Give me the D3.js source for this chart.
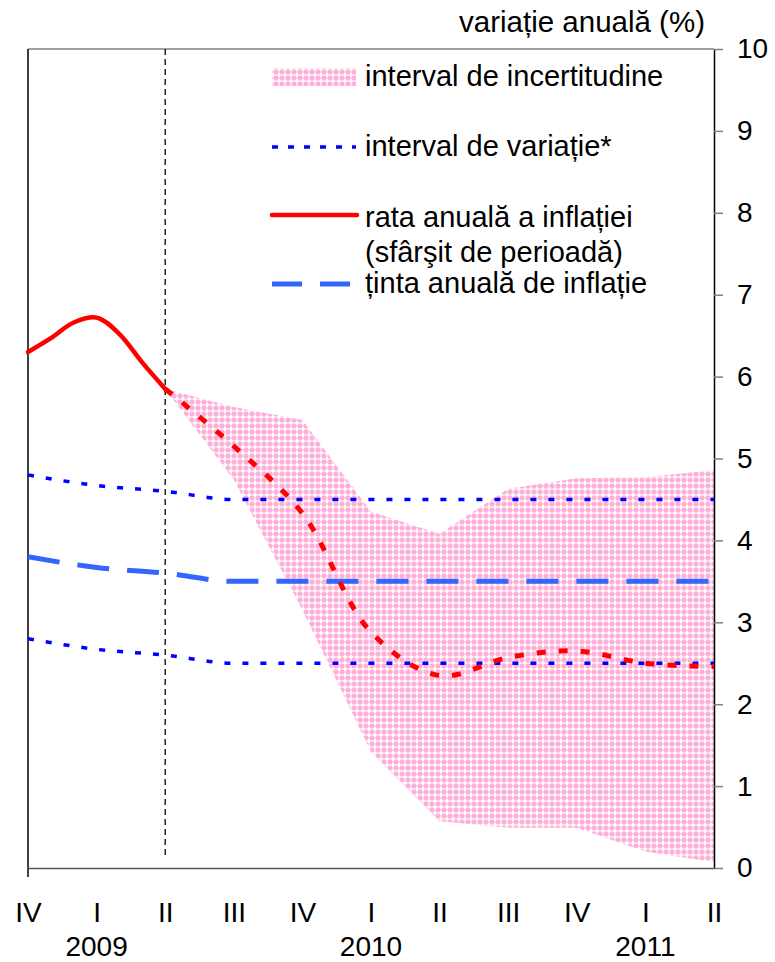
<!DOCTYPE html>
<html>
<head>
<meta charset="utf-8">
<script src="https://cdn.jsdelivr.net/npm/d3@7"></script>
<style>
  body { margin: 0; background: #fff; }
  text { font-family: "Liberation Sans", Arial, sans-serif; fill: #000; }
</style>
</head>
<body>
<div id="chart"></div>
<script>
// quarters on the x axis (index 0 = IV 2008 ... 10 = II 2011)
var quarterLabels = ["IV", "I", "II", "III", "IV", "I", "II", "III", "IV", "I", "II"];
var yearLabels = [{q: 1, year: "2009"}, {q: 5, year: "2010"}, {q: 9, year: "2011"}];

// realised annual inflation, monthly, Dec 2008 - Jun 2009
var histMonths = [0, 1/3, 2/3, 1, 4/3, 5/3, 2];
var histValues = [6.30, 6.47, 6.66, 6.72, 6.52, 6.17, 5.85];

// forecast, quarterly from II 2009
var fcQuarters = [2, 3, 4, 5, 6, 7, 8, 9, 10];
var fcValues   = [5.85, 5.15, 4.33, 2.88, 2.35, 2.57, 2.65, 2.50, 2.46];

// uncertainty band
var bandUpper = [5.85, 5.63, 5.47, 4.35, 4.08, 4.63, 4.76, 4.77, 4.86];
var bandLower = [5.85, 4.74, 3.15, 1.42, 0.57, 0.49, 0.49, 0.20, 0.07];

// inflation target and variation interval (target +/- 1 pp)
var allQuarters = [0, 1, 2, 3, 4, 5, 6, 7, 8, 9, 10];
var target = [3.8, 3.67, 3.6, 3.5, 3.5, 3.5, 3.5, 3.5, 3.5, 3.5, 3.5];
var intervalUp = [4.8, 4.67, 4.6, 4.5, 4.5, 4.5, 4.5, 4.5, 4.5, 4.5, 4.5];
var intervalLow = [2.8, 2.67, 2.6, 2.5, 2.5, 2.5, 2.5, 2.5, 2.5, 2.5, 2.5];

var yTicks = [0, 1, 2, 3, 4, 5, 6, 7, 8, 9, 10];

var W = 775, H = 962;
var svg = d3.select("#chart").append("svg").attr("width", W).attr("height", H);

var x = d3.scaleLinear().domain([0, 10]).range([28, 714]);
var y = d3.scaleLinear().domain([0, 10]).range([868, 49]);

// crosshatch pattern for the band
var defs = svg.append("defs");
var pat = defs.append("pattern").attr("id", "hatch")
  .attr("patternUnits", "userSpaceOnUse").attr("width", 6).attr("height", 6);
pat.append("rect").attr("width", 6).attr("height", 6).attr("fill", "#ffb0d8");
pat.append("rect").attr("x", 2).attr("y", 0.5).attr("width", 2).attr("height", 5).attr("fill", "#fff").attr("opacity", 0.8);
pat.append("rect").attr("x", 0.5).attr("y", 2).attr("width", 5).attr("height", 2).attr("fill", "#fff").attr("opacity", 0.8);

// band
var band = fcQuarters.map(function(q, i) { return {q: q, lo: bandLower[i], hi: bandUpper[i]}; });
svg.append("path")
  .datum(band)
  .attr("d", d3.area().x(d => x(d.q)).y0(d => y(d.lo)).y1(d => y(d.hi)))
  .attr("fill", "url(#hatch)");

// frame: top gray, left black
svg.append("line").attr("x1", x(0)).attr("x2", x(10)).attr("y1", y(10)).attr("y2", y(10))
  .attr("stroke", "#808080").attr("stroke-width", 1.5);
svg.append("line").attr("x1", x(0)).attr("x2", x(0)).attr("y1", y(10)).attr("y2", y(0) + 9)
  .attr("stroke", "#000").attr("stroke-width", 1.5);

// separator between data and projection
svg.append("line").attr("x1", x(2)).attr("x2", x(2)).attr("y1", y(10)).attr("y2", 857)
  .attr("stroke", "#000").attr("stroke-width", 1.3).attr("stroke-dasharray", "6,4");

// right axis
var yAxis = d3.axisRight(y).tickValues(yTicks).tickSizeInner(9).tickSizeOuter(0).tickPadding(14);
var gy = svg.append("g").attr("transform", "translate(" + x(10) + ",0)").call(yAxis);
gy.select(".domain").attr("stroke", "#000").attr("stroke-width", 1.5);
gy.selectAll(".tick line").attr("stroke", "#808080").attr("stroke-width", 1.5);
gy.selectAll(".tick text").attr("font-size", 28).attr("font-family", "Liberation Sans, Arial, sans-serif");

// bottom axis
var xAxis = d3.axisBottom(x).tickValues(allQuarters).tickSize(0).tickPadding(34)
  .tickFormat(function(d) { return quarterLabels[d]; });
var gx = svg.append("g").attr("transform", "translate(0," + y(0) + ")").call(xAxis);
gx.select(".domain").attr("stroke", "#555").attr("stroke-width", 1.5);
gx.selectAll(".tick text").attr("font-size", 28).attr("font-family", "Liberation Sans, Arial, sans-serif");

svg.append("g").selectAll("text").data(yearLabels).join("text")
  .attr("x", d => x(d.q)).attr("y", 956)
  .attr("text-anchor", "middle").attr("font-size", 28)
  .text(d => d.year);

// title
svg.append("text").attr("x", 705).attr("y", 32).attr("text-anchor", "end")
  .attr("font-size", 29.5).text("variație anuală (%)");

var lineQ = d3.line().x((d, i) => x(allQuarters[i])).y(d => y(d)).curve(d3.curveMonotoneX);

// variation interval
[intervalUp, intervalLow].forEach(function(arr) {
  svg.append("path").datum(arr).attr("d", lineQ)
    .attr("fill", "none").attr("stroke", "#0000ff").attr("stroke-width", 3.5)
    .attr("stroke-dasharray", "6,12");
});

// target
svg.append("path").datum(target).attr("d", lineQ)
  .attr("fill", "none").attr("stroke", "#3366ff").attr("stroke-width", 5)
  .attr("stroke-dasharray", "32,18");

// realised inflation
svg.append("path").datum(histValues)
  .attr("d", d3.line().x((d, i) => x(histMonths[i])).y(d => y(d)).curve(d3.curveCatmullRom.alpha(0.5)))
  .attr("fill", "none").attr("stroke", "#ff0000").attr("stroke-width", 4.5).attr("stroke-linecap", "round");

// forecast
svg.append("path").datum(fcValues)
  .attr("d", d3.line().x((d, i) => x(fcQuarters[i])).y(d => y(d)).curve(d3.curveCatmullRom.alpha(0.5)))
  .attr("fill", "none").attr("stroke", "#ff0000").attr("stroke-width", 5)
  .attr("stroke-dasharray", "9,13");

// legend
var lg = svg.append("g").attr("font-size", 29);
lg.append("rect").attr("x", 272).attr("y", 68).attr("width", 84).attr("height", 18).attr("fill", "url(#hatch)");
lg.append("text").attr("x", 365).attr("y", 86).text("interval de incertitudine");

lg.append("line").attr("x1", 272).attr("x2", 356).attr("y1", 147).attr("y2", 147)
  .attr("stroke", "#0000ff").attr("stroke-width", 3.5).attr("stroke-dasharray", "6,10");
lg.append("text").attr("x", 365).attr("y", 156).text("interval de variație*");

lg.append("line").attr("x1", 272).attr("x2", 357).attr("y1", 215).attr("y2", 215)
  .attr("stroke", "#ff0000").attr("stroke-width", 4.5).attr("stroke-linecap", "round");
lg.append("text").attr("x", 365).attr("y", 227).text("rata anuală a inflației");
lg.append("text").attr("x", 365).attr("y", 262).text("(sfârşit de perioadă)");

lg.append("line").attr("x1", 272).attr("x2", 356).attr("y1", 284).attr("y2", 284)
  .attr("stroke", "#3366ff").attr("stroke-width", 5).attr("stroke-dasharray", "30,18");
lg.append("text").attr("x", 365).attr("y", 293).text("ținta anuală de inflație");
</script>
</body>
</html>
